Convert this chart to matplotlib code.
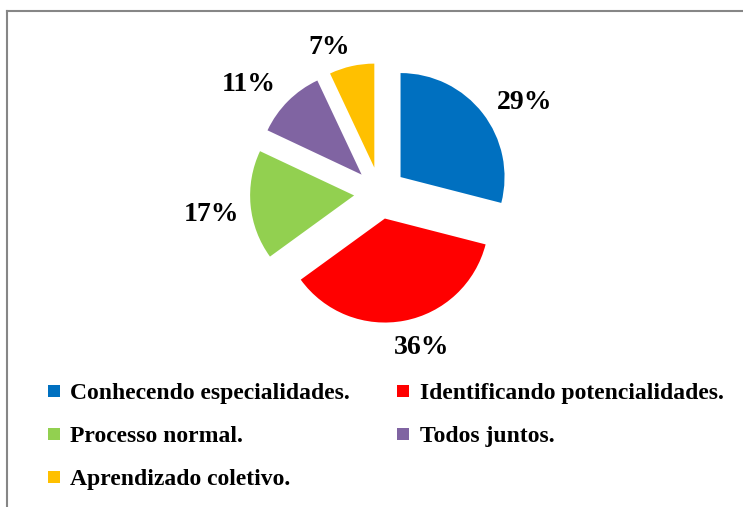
import matplotlib.pyplot as plt
from matplotlib.lines import Line2D

# --- data ---
labels = ['Conhecendo especialidades.', 'Identificando potencialidades.',
          'Processo normal.', 'Todos juntos.', 'Aprendizado coletivo.']
values = [29, 36, 17, 11, 7]
colors = ['#0070C0', '#FF0000', '#92D050', '#8064A2', '#FFC000']

# nudges (px) of the percentage labels from their default spot
label_nudge = [(13, 11), (10, -9), (-3, 6), (-14, 9), (-15, 17)]

plt.rcParams['font.family'] = ['Liberation Serif', 'DejaVu Serif']

W, H = 743, 507
fig = plt.figure(figsize=(W / 100, H / 100), dpi=100)

# pie radius ~104px, centre at (380, 193) px from top-left
R = 104
L = 2.0
cx, cy = 380, 193
ax = fig.add_axes([(cx - L * R) / W, (H - cy - L * R) / H, 2 * L * R / W, 2 * L * R / H])

wedges, texts, autotexts = ax.pie(values, colors=colors, startangle=90, counterclock=False,
                                  explode=[0.25] * len(values), radius=1,
                                  autopct='%1.0f%%', pctdistance=1.35,
                                  wedgeprops=dict(linewidth=0))
for t, (dx, dy) in zip(autotexts, label_nudge):
    x, y = t.get_position()
    t.set_position((x + dx / R, y - dy / R))
    t.set_fontsize(20)
    t.set_fontweight('bold')
    t.set_color('black')

ax.set_xlim(-L, L)
ax.set_ylim(-L, L)
ax.axis('off')

# legend, row-major like the original (matplotlib fills column-major)
handles = [Line2D([], [], marker='s', linestyle='none', markersize=8,
                  markerfacecolor=c, markeredgewidth=0) for c in colors]
order = [0, 2, 4, 1, 3]
fig.legend([handles[i] for i in order], [labels[i] for i in order],
           ncol=2, loc='upper left', bbox_to_anchor=(35 / W, 1 - 371 / H),
           frameon=False, borderpad=0, handlelength=0.6, handletextpad=0.4,
           columnspacing=1.95, labelspacing=0.9,
           prop=dict(family='Liberation Serif', weight='bold', size=17))

# partial chart frame (top and left edge only)
fig.add_artist(Line2D([7.5 / W, 7.5 / W], [0, 1 - 11 / H], color='#868686', linewidth=1.5))
fig.add_artist(Line2D([7.5 / W, 1], [1 - 11 / H, 1 - 11 / H], color='#868686', linewidth=1.5))

fig.savefig('out.png', dpi=100, facecolor='white')
